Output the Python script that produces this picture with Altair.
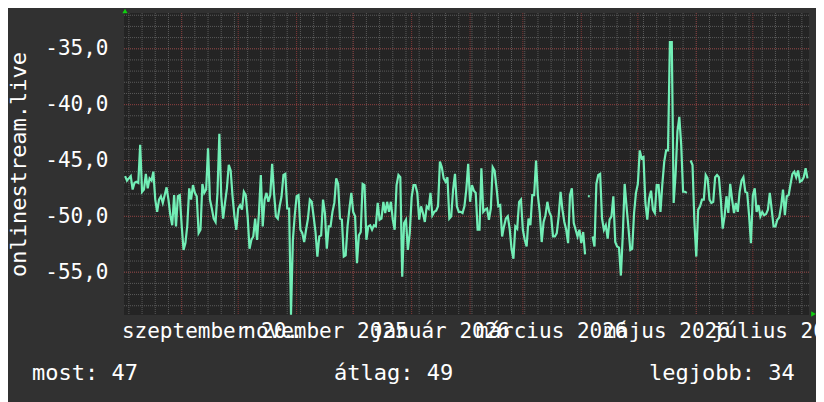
import altair as alt
import pandas as pd

# ---- data: daily values (negative rank), starting 2025-08-02 ----
vals_a = [-46.4, -46.8, -46.6, -46.4, -47.6, -47.0, -46.9, -47.0, -43.6, -47.8,
          -47.6, -46.2, -47.5, -46.6, -46.8, -46.0, -48.5, -49.6, -48.5, -48.2,
          -48.8, -48.1, -47.4, -48.5, -49.9, -50.8, -48.1, -50.9, -48.2, -48.1,
          -50.8, -53.0, -52.4, -50.8, -47.5, -48.5, -47.2, -47.9, -48.2, -51.5,
          -51.2, -47.1, -47.9, -47.6, -43.9, -48.5, -49.3, -50.2, -50.5, -47.9,
          -42.6, -48.2, -50.2, -48.8, -47.5, -45.4, -45.9, -48.2, -50.0]
vals_b = [-51.2,
          -49.3, -49.0, -49.4, -47.8, -48.1, -50.0, -52.9, -52.1, -51.8, -50.2,
          -52.1, -49.7, -46.3, -50.9, -48.5, -47.9, -48.7, -48.1, -45.3, -47.9,
          -50.0, -50.2, -49.1, -48.2, -46.3, -46.2, -49.3, -49.3, -58.8, -52.1,
          -49.9, -48.2, -48.1, -51.2, -51.5, -52.3, -51.2, -50.2, -48.5, -48.7,
          -50.0, -51.4, -53.6, -51.8, -51.7, -48.5, -49.7, -52.9, -50.9, -50.9,
          -49.6, -48.8, -46.6, -47.1, -50.2, -50.3, -53.6, -53.5, -50.9, -49.3, -47.9]
vals_c = [-49.6, -50.0, -54.2, -51.7, -51.4, -47.1, -47.2, -52.1, -50.9,
          -50.8, -51.2, -50.8, -50.9, -48.8, -50.3, -50.2, -48.7, -49.7, -48.7,
          -49.6, -48.7, -50.3, -51.2, -47.2, -46.3, -46.5, -55.4, -50.6, -50.3,
          -53.0, -51.5, -48.3, -47.2, -47.2, -47.9, -50.3, -49.1, -49.7, -50.5,
          -49.1, -49.3, -47.9, -49.9, -49.6, -49.5, -49.1, -45.1, -45.6, -46.6,
          -46.9, -46.5, -50.2, -50.0, -47.6, -46.2, -49.1, -49.6, -49.6, -49.7, -49.1, -47.6]
vals_d = [-45.3, -48.7, -47.2, -47.7, -47.9, -51.2, -51.2, -45.7,
          -49.6, -49.4, -49.3, -50.3, -49.3, -45.6, -45.9, -47.4, -49.1, -49.0,
          -51.8, -50.9, -50.2, -50.0, -51.1, -52.9, -53.8, -50.9, -51.1, -48.7,
          -48.5, -51.2, -52.1, -52.7, -50.2, -50.8, -48.1, -48.1, -45.0, -48.2,
          -49.7, -52.3, -50.5, -49.9, -48.7, -49.6, -50.0, -51.8, -51.8, -51.5,
          -50.0, -47.8, -49.4, -50.5, -51.2, -52.4, -48.1, -47.5, -50.6, -51.2, -51.8, -51.2]
vals_e = [-52.4, -51.4, -53.4, None, -48.2, None, -51.8, -52.7,
          -47.1, -46.3, -46.2, -50.2, -51.2, -50.8, -52.0, -50.3, -50.0, -48.2,
          -52.3, -52.7, -52.8, -55.3, -51.7, -47.1, -49.1, -51.0, -53.0, -52.9,
          -49.7, -47.9, -47.1, -44.1, -44.8, -44.7, -48.8, -50.3, -48.4, -47.7,
          -49.4, -49.7, -47.2, -47.2, -49.6, -47.1, -45.1, -44.1, -44.1, -34.4,
          -34.4, -48.8, -46.3, -42.4, -41.1, -43.6, -47.8, -47.8, -47.9, None,
          -45.0, -45.4, -50.5, -53.6]
vals_f = [-49.4, -49.1, -48.5, -48.5, -46.3, -46.6,
          -48.5, -48.8, -48.7, -46.5, -46.3, -46.5, -48.5, -51.1, -50.0, -48.2,
          -49.7, -47.1, -48.5, -49.7, -48.8, -49.6, -47.8, -46.8, -46.5, -47.8,
          -47.9, -49.9, -52.4, -48.1, -47.5, -49.6, -49.0, -50.0, -49.6, -49.9,
          -49.8, -49.4, -47.9, -49.4, -50.9, -50.9, -50.3, -50.1, -49.1, -47.6,
          -49.9, -48.2, -48.1, -47.1, -46.2, -46.0, -46.5, -45.9, -46.9, -46.8,
          -46.5, -45.7, -46.6]

values = vals_a + vals_b + vals_c + vals_d + vals_e + vals_f
start_date = "2025-08-02"

y_ticks = [-55, -50, -45, -40, -35]
y_minor = list(range(-58, -31))
label_months = [(2025, 9), (2025, 11), (2026, 1), (2026, 3), (2026, 5), (2026, 7)]
hu_months = ["január", "február", "március", "április", "május", "június",
             "július", "augusztus", "szeptember", "október", "november", "december"]
y_title = "onlinestream.live"
legend_texts = ["most: 47", "átlag: 49", "legjobb: 34"]

# ---- tables ----
df = pd.DataFrame({"date": pd.date_range(start_date, periods=len(values), freq="D"),
                   "v": pd.Series(values, dtype="float")})
iso = df[df.v.notna() & df.v.shift(1).isna() & df.v.shift(-1).isna()].copy()
iso["start"] = iso["date"] - pd.Timedelta(hours=12)
iso["end"] = iso["date"] + pd.Timedelta(hours=12)
weeks = pd.DataFrame({"date": pd.date_range("2025-08-04", "2026-07-27", freq="7D")})
months = pd.DataFrame({"date": pd.date_range("2025-09-01", "2026-07-01", freq="MS")})
minor_h = pd.DataFrame({"v": y_minor})
major_h = pd.DataFrame({"v": y_ticks})

FONT = "DejaVu Sans Mono"
FS = 21
WHITE = "#ffffff"
GRID = "#5a5a5a"
MGRID = "#843838"
LINE = "#72EEB6"

x_scale = alt.Scale(domain=[alt.DateTime(year=2025, month=8, date=1, hours=10),
                            alt.DateTime(year=2026, month=7, date=30, hours=19)])
y_scale = alt.Scale(domain=[-58.83, -31.8], nice=False, zero=False)

month_arr = "[" + ",".join("'" + m + "'" for m in hu_months) + "]"
x_axis = alt.Axis(title=None, values=[alt.DateTime(year=y, month=m, date=16) for y, m in label_months],
                  labelExpr=month_arr + "[month(datum.value)] + ' ' + year(datum.value)",
                  grid=False, domain=False, ticks=False, tickSize=0, labelPadding=22,
                  labelBaseline="alphabetic", labelAngle=0, labelOverlap=False,
                  labelFlush=False, labelBound=False, labelFont=FONT, labelFontSize=FS,
                  labelColor=WHITE)
y_axis = alt.Axis(title=y_title, values=y_ticks,
                  labelExpr="(datum.value < 0 ? '-' : '') + replace(format(abs(datum.value), '.1f'), '.', ',')",
                  grid=False, domain=False, ticks=False, tickSize=0, labelPadding=16,
                  labelBaseline="middle", labelOverlap=False, labelFont=FONT, labelFontSize=FS,
                  labelColor=WHITE, titleFont=FONT, titleFontSize=22, titleColor=WHITE,
                  titleFontWeight="normal", titleAngle=270, titleAlign="center",
                  titleBaseline="alphabetic", titleX=-99, titleY=151)

X = alt.X("date:T", scale=x_scale, axis=x_axis)
Y = alt.Y("v:Q", scale=y_scale, axis=y_axis)

g_minor_v = alt.Chart(weeks).mark_rule(color=GRID, strokeWidth=1, strokeDash=[1, 1]).encode(x=X)
g_minor_h = alt.Chart(minor_h).mark_rule(color=GRID, strokeWidth=1, strokeDash=[1, 1]).encode(y=Y)
g_major_v = alt.Chart(months).mark_rule(color=MGRID, strokeWidth=1, strokeDash=[1, 1]).encode(x=X)
g_major_h = alt.Chart(major_h).mark_rule(color=MGRID, strokeWidth=1, strokeDash=[1, 1]).encode(y=Y)

line = alt.Chart(df).mark_line(color=LINE, strokeWidth=2.2, clip=True).encode(x=X, y=Y)
iso_marks = alt.Chart(iso).mark_rule(color=LINE, strokeWidth=2.2).encode(
    x=alt.X("start:T", scale=x_scale, axis=x_axis), x2="end:T", y=Y)

def legend(i, xpos):
    return alt.Chart(pd.DataFrame({"t": [legend_texts[i]]})).mark_text(
        align="left", baseline="alphabetic", font=FONT, fontSize=22, color=WHITE
    ).encode(text="t:N", x=alt.value(xpos), y=alt.value(367))

one = pd.DataFrame({"a": [0]})
arrow_up = alt.Chart(one).mark_point(shape="triangle-up", filled=True, color="#10d010",
                                     size=28, opacity=1).encode(x=alt.value(1), y=alt.value(-2))
arrow_right = alt.Chart(one).mark_point(shape="triangle-right", filled=True, color="#10d010",
                                        size=28, opacity=1).encode(x=alt.value(689.5), y=alt.value(301))

chart = alt.layer(
    g_minor_v, g_minor_h, g_major_v, g_major_h, line, iso_marks,
    legend(0, -92), legend(1, 210), legend(2, 525), arrow_up, arrow_right
).properties(
    width=685, height=302,
    autosize=alt.AutoSizeParams(type="none"),
    padding={"left": 116, "top": 5, "right": 7, "bottom": 87},
).configure(background="#313131").configure_view(fill="#242424", strokeWidth=0)

chart.save("out.html", embed_options={"renderer": "svg", "actions": False})
